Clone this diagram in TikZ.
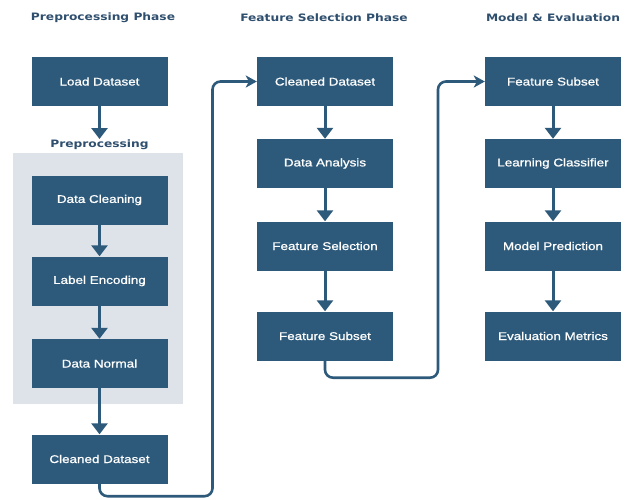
\documentclass[tikz,border=0pt]{standalone}
\usepackage{fontspec}
\usepackage{graphicx}
\usetikzlibrary{arrows.meta}
\newfontfamily\boxfont[FakeBold=0.8]{Liberation Sans}
\newfontfamily\headfont{DejaVu Sans}
\newcommand\hstretch[1]{\scalebox{1.2}[1]{#1}}
\definecolor{boxblue}{HTML}{2D5A7B}
\definecolor{headblue}{HTML}{2F4F6F}
\definecolor{panelgray}{HTML}{DDE3E9}
\tikzset{
  stepbox/.style={fill=boxblue, draw=none, minimum width=136pt, minimum height=49pt,
    inner sep=0pt, text=white, font=\boxfont\fontsize{11.2}{13}\selectfont},
  heading/.style={text=headblue, font=\headfont\bfseries\fontsize{10.2}{12}\selectfont, inner sep=0pt},
  flow/.style={draw=boxblue, line width=3pt, -{Triangle[width=16pt,length=11pt]}},
  link/.style={draw=boxblue, line width=2.6pt, rounded corners=8pt,
    -{Stealth[width=12pt,length=11pt,inset=3pt]}},
}
\begin{document}
\begin{tikzpicture}[x=1pt, y=-1pt]
  \useasboundingbox (0,0) rectangle (628,499);
  \fill[white] (0,0) rectangle (628,499);

  % column headings
  \node[heading] (h1) at (103,18) {\hstretch{Preprocessing Phase}};
  \node[heading] (h2) at (324,18) {\hstretch{Feature Selection Phase}};
  \node[heading] (h3) at (553,18) {\hstretch{Model \& Evaluation}};

  % preprocessing group background
  \fill[panelgray] (13,153) rectangle (183,404);
  \node[heading] (grp) at (99.5,145) {\hstretch{Preprocessing}};

  % column 1
  \node[stepbox] (load)  at (99.5,81.5) {\hstretch{Load Dataset}};
  \node[stepbox] (clean) at (99.5,200)  {\hstretch{Data Cleaning}};
  \node[stepbox] (label) at (99.5,281)  {\hstretch{Label Encoding}};
  \node[stepbox] (norm)  at (99.5,363.5){\hstretch{Data Normal}};
  \node[stepbox] (cds1)  at (99.5,459)  {\hstretch{Cleaned Dataset}};

  % column 2
  \node[stepbox] (cds2)  at (325,81.5)  {\hstretch{Cleaned Dataset}};
  \node[stepbox] (anal)  at (325,163.5) {\hstretch{Data Analysis}};
  \node[stepbox] (fsel)  at (325,246)   {\hstretch{Feature Selection}};
  \node[stepbox] (fsub2) at (325,336)   {\hstretch{Feature Subset}};

  % column 3
  \node[stepbox] (fsub3) at (553,81.5)  {\hstretch{Feature Subset}};
  \node[stepbox] (learn) at (553,163.5) {\hstretch{Learning Classifier}};
  \node[stepbox] (pred)  at (553,246)   {\hstretch{Model Prediction}};
  \node[stepbox] (eval)  at (553,336)   {\hstretch{Evaluation Metrics}};

  % vertical flow arrows
  \coordinate (grptip) at (99.5,139);
  \draw[flow] (load.south) -- (grptip);
  \draw[flow] (clean) -- (label);
  \draw[flow] (label) -- (norm);
  \draw[flow] (norm) -- (cds1);
  \draw[flow] (cds2) -- (anal);
  \draw[flow] (anal) -- (fsel);
  \draw[flow] (fsel) -- (fsub2);
  \draw[flow] (fsub3) -- (learn);
  \draw[flow] (learn) -- (pred);
  \draw[flow] (pred) -- (eval);

  % links between phases
  \draw[link] (cds1.south) -- ++(0,12.5) -| (212.5,120) |- (cds2.west);
  \draw[link] (fsub2.south) -- ++(0,17) -| (438,120) |- (fsub3.west);
\end{tikzpicture}
\end{document}
